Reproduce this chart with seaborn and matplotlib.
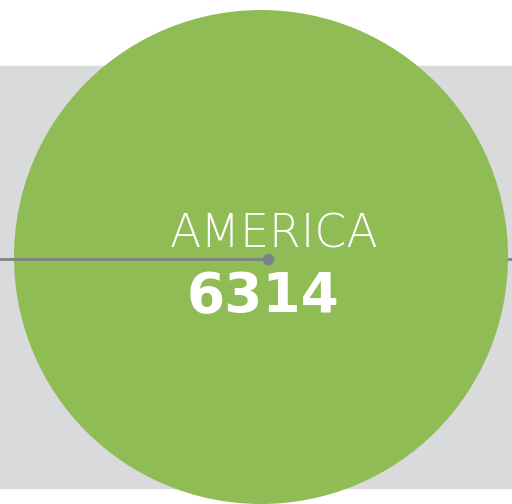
import matplotlib

matplotlib.use("Agg")
import matplotlib.pyplot as plt
from matplotlib.patches import Circle
import seaborn as sns
import numpy as np

# --- Datos ---
regions = ["AMERICA"]
values = [6314]

# --- Estilo ---
GREEN = "#8fbc54"
BAND = "#d9dadc"
LINE = "#7e8189"
W, H = 512, 504

sns.set_theme(style="white")
plt.rcParams["font.family"] = ["DejaVu Sans"]

fig = plt.figure(figsize=(W / 100, H / 100), dpi=100)
ax = fig.add_axes([0, 0, 1, 1])
ax.set_xlim(0, W)
ax.set_ylim(H, 0)
ax.axis("off")

# banda gris de fondo
ax.axhspan(66, 488, color=BAND, zorder=0)

# radio proporcional a la raiz del valor
k = 247 / np.sqrt(6314)
cx, cy = 261, 257
for name, val in zip(regions, values):
    r = k * np.sqrt(val)
    ax.add_patch(Circle((cx, cy), r, color=GREEN, zorder=2, lw=0))
    # linea guia
    ax.plot([cx, W], [259, 259], color=LINE, lw=2, zorder=1)
    ax.plot([0, 268], [259, 259], color=LINE, lw=2, zorder=3)
    sns.scatterplot(x=[268], y=[259], color=LINE, s=70, ax=ax, zorder=4,
                    linewidth=0, legend=False)
    ax.text(274, 247, name, ha="center", va="baseline", color="white",
            fontsize=33, fontweight="light", zorder=5)
    ax.text(263, 312, f"{val}", ha="center", va="baseline", color="white",
            fontsize=39.5, fontweight="bold", zorder=5)

ax.set_xlim(0, W)
ax.set_ylim(H, 0)
fig.savefig("out.png", dpi=100)
